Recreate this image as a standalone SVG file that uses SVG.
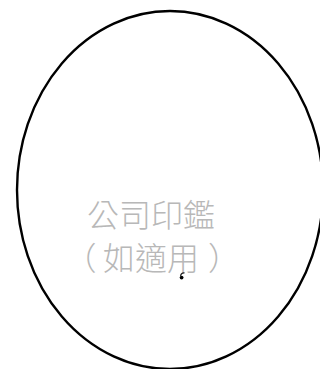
<svg xmlns="http://www.w3.org/2000/svg" width="320" height="369" viewBox="0 0 320 369">
<style>
.seal{fill:none;stroke:#000;stroke-width:2.4}
.lbl{font-family:"Noto Sans CJK TC","Noto Sans CJK JP",sans-serif;font-size:32px;font-weight:300;fill:#b8b8b8;text-anchor:middle}
</style>
<rect width="320" height="369" fill="#fff"/>
<g id="seal">
<ellipse class="seal" cx="170" cy="190" rx="153" ry="179"/>
<text class="lbl" x="151" y="227">公司印鑑</text>
<text class="lbl" y="270"><tspan x="80.5">（</tspan><tspan x="151">如適用</tspan><tspan x="224">）</tspan></text>
</g>
<g id="mark">
<path d="M184.5,272.8 Q181,272.5 180.6,276" fill="none" stroke="#222" stroke-width="1.2"/>
<circle cx="181.6" cy="277.6" r="1.9" fill="#000"/>
</g>
</svg>
